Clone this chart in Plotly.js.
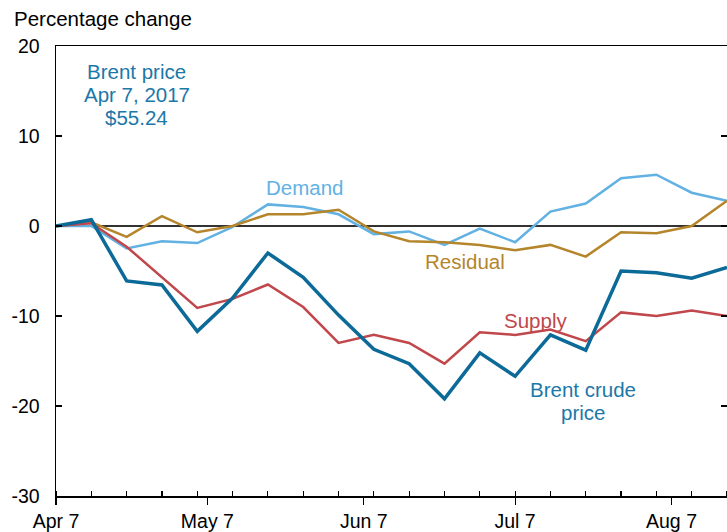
<!DOCTYPE html>
<html>
<head>
<meta charset="utf-8">
<script src="https://cdn.plot.ly/plotly-3.0.1.min.js"></script>
<style>
html,body{margin:0;padding:0;background:#fff;}
#chart{width:727px;height:532px;}
</style>
</head>
<body>
<div id="chart"></div>
<script>
// Weekly dates (Fridays)
const dates = ['2017-04-07','2017-04-14','2017-04-21','2017-04-28','2017-05-05','2017-05-12','2017-05-19','2017-05-26','2017-06-02','2017-06-09','2017-06-16','2017-06-23','2017-06-30','2017-07-07','2017-07-14','2017-07-21','2017-07-28','2017-08-04','2017-08-11','2017-08-18'];
const brent    = [0, 0.7, -6.1, -6.55, -11.7, -8.0, -3.0, -5.7, -9.9, -13.7, -15.3, -19.2, -14.1, -16.7, -12.1, -13.8, -5.0, -5.2, -5.8, -4.6];
const supply   = [0, 0.3, -2.3, -5.7, -9.1, -8.1, -6.5, -9.0, -13.0, -12.1, -13.0, -15.3, -11.8, -12.1, -11.5, -12.8, -9.6, -10.0, -9.4, -10.0];
const demand   = [0, 0.0, -2.5, -1.7, -1.9, -0.1, 2.4, 2.1, 1.3, -0.9, -0.6, -2.1, -0.3, -1.8, 1.6, 2.5, 5.3, 5.7, 3.7, 2.8];
const residual = [0, 0.4, -1.2, 1.1, -0.7, 0.0, 1.3, 1.3, 1.8, -0.6, -1.7, -1.8, -2.1, -2.7, -2.1, -3.4, -0.7, -0.8, 0.0, 2.8];

const xTickVals = ['2017-04-07','2017-05-07','2017-06-07','2017-07-07','2017-08-07'];
const xTickText = ['Apr 7','May 7','Jun 7','Jul 7','Aug 7'];
const yTickVals = [-30,-20,-10,0,10,20];
const yTickText = ['-30','-20','-10','0','10','20'];

const C_BRENT = '#0b6a98', C_BRENT_TXT = '#1b78a8', C_DEM = '#62b1e3', C_RES = '#b5852c', C_SUP = '#c0474b';
const FONT = 'Liberation Sans, Arial, sans-serif';
const AF = 20.5;

const traces = [
  {x: dates, y: demand, mode:'lines', line:{color:C_DEM, width:2.5}, name:'Demand'},
  {x: dates, y: residual, mode:'lines', line:{color:C_RES, width:2.5}, name:'Residual'},
  {x: dates, y: supply, mode:'lines', line:{color:C_SUP, width:2.5}, name:'Supply'},
  {x: dates, y: brent, mode:'lines', line:{color:C_BRENT, width:3.5}, name:'Brent crude price'}
];

function lbl(x, y, text, color){
  return {xref:'x', yref:'y', x:x, y:y, text:text, showarrow:false, xanchor:'center', yanchor:'middle', font:{size:AF, family:FONT, color:color}};
}

const layout = {
  width:727, height:532,
  margin:{l:56, r:0, t:46, b:36},
  paper_bgcolor:'#fff', plot_bgcolor:'#fff',
  showlegend:false,
  font:{family:FONT, color:'#000', size:19.5},
  xaxis:{
    type:'date',
    range:['2017-04-07','2017-08-18'],
    tickmode:'array', tickvals:xTickVals, ticktext:xTickText,
    ticks:'outside', ticklen:7, tickwidth:1.2, tickcolor:'#000',
    showline:true, linecolor:'#000', linewidth:1.5, mirror:true,
    showgrid:false, zeroline:false,
    tickfont:{size:19.5, family:FONT, color:'#000'},
    minor:{tickmode:'linear', tick0:'2017-04-07', dtick:7*86400000, ticks:'inside', ticklen:5, tickwidth:1.2, tickcolor:'#000', showgrid:false},
    fixedrange:true
  },
  yaxis:{
    range:[-30,20],
    tickmode:'array', tickvals:yTickVals, ticktext:yTickText,
    ticks:'inside', ticklen:6, tickwidth:1.2, tickcolor:'#000',
    showline:true, linecolor:'#000', linewidth:1.5, mirror:'ticks',
    showgrid:false,
    zeroline:true, zerolinecolor:'#333', zerolinewidth:1.2,
    tickfont:{size:19.5, family:FONT, color:'#000'},
    ticklabelstandoff:11,
    fixedrange:true
  },
  annotations:[
    {xref:'paper', yref:'paper', x:-44/671, y:1+28/450, xanchor:'left', yanchor:'middle', text:'Percentage change', showarrow:false, font:{size:20.5, family:FONT, color:'#000'}},
    lbl('2017-04-23', 17.19, 'Brent price', C_BRENT_TXT),
    lbl('2017-04-23', 14.63, 'Apr 7, 2017', C_BRENT_TXT),
    lbl('2017-04-23', 12.08, '$55.24', C_BRENT_TXT),
    lbl('2017-05-26 10:00', 4.3, 'Demand', C_DEM),
    lbl('2017-06-27', -3.9, 'Residual', C_RES),
    lbl('2017-07-11', -10.5, 'Supply', C_SUP),
    lbl('2017-07-20 12:00', -18.16, 'Brent crude', C_BRENT_TXT),
    lbl('2017-07-20 12:00', -20.7, 'price', C_BRENT_TXT)
  ]
};

Plotly.newPlot('chart', traces, layout, {displayModeBar:false, staticPlot:true});
</script>
</body>
</html>
